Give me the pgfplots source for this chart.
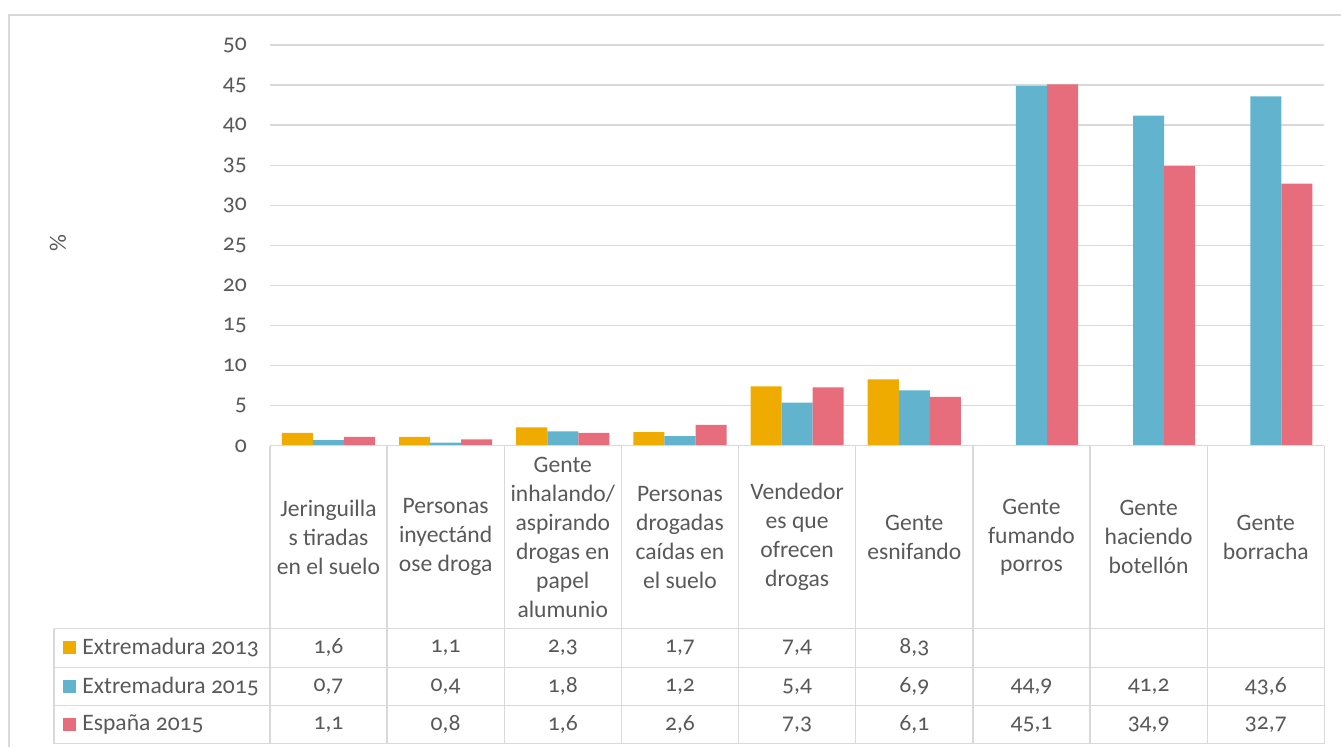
\documentclass[border=0pt]{standalone}
\usepackage{pgfplots}
\pgfplotsset{compat=1.18}
\usepackage{fontspec}
\setmainfont{Carlito}[Numbers=OldStyle]
\definecolor{cgold}{RGB}{240,171,0}
\definecolor{cblue}{RGB}{98,179,206}
\definecolor{cpink}{RGB}{231,108,124}
\definecolor{ctext}{RGB}{89,89,89}
\definecolor{cgrid}{RGB}{217,217,217}
\begin{document}
\begin{tikzpicture}
\begin{scope}[x=0.5pt,y=-0.5pt,shift={(-270,-446)}]
\path (0,0) rectangle (1342,747);
\end{scope}
\begin{axis}[
  width=527.5pt, height=200.5pt, scale only axis,
  xmin=-0.5, xmax=8.5, ymin=0, ymax=50,
  ytick={0,5,...,50}, xtick=\empty,
  axis line style={draw=none},
  ymajorgrids, grid style={color=cgrid, line width=0.65pt},
  major tick length=0pt,
  /pgf/number format/assume math mode=true,
  yticklabel style={font=\fontsize{11.8}{14.5}\selectfont, text=ctext, xshift=-8pt},
  clip=false,
]
\addplot[ybar, bar width=0.265, bar shift=-0.265, fill=cgold, draw=none]
  coordinates {(0,1.6) (1,1.1) (2,2.3) (3,1.7) (4,7.4) (5,8.3)};
\addplot[ybar, bar width=0.265, bar shift=0, fill=cblue, draw=none]
  coordinates {(0,0.7) (1,0.4) (2,1.8) (3,1.2) (4,5.4) (5,6.9) (6,44.9) (7,41.2) (8,43.6)};
\addplot[ybar, bar width=0.265, bar shift=0.265, fill=cpink, draw=none]
  coordinates {(0,1.1) (1,0.8) (2,1.6) (3,2.6) (4,7.3) (5,6.1) (6,45.1) (7,34.9) (8,32.7)};
\end{axis}
\begin{scope}[x=0.5pt,y=-0.5pt,shift={(-270,-446)}, every node/.style={text=ctext, font=\fontsize{11.8}{14.5}\selectfont, inner sep=0pt}]
\draw[cgrid, line width=0.6pt] (1342,15) -- (9,15) -- (9,747);
\draw[cgrid, line width=0.7pt] (270,446) -- (1325,446);
\foreach \yy in {629,668,706,744} \draw[cgrid, line width=0.7pt] (54,\yy) -- (1325,\yy);
\draw[cgrid, line width=0.7pt] (54,629) -- (54,744);
\foreach \k in {0,...,9} \draw[cgrid, line width=0.7pt] ({270+117.22*\k},446) -- ({270+117.22*\k},744);
\node[rotate=90] at (58,243) {\%};
\foreach \lab [count=\i from 0] in {
  {Jeringuilla\\s tiradas\\en el suelo},
  {Personas\\inyectánd\\ose droga},
  {Gente\\inhalando/\\aspirando\\drogas en\\papel\\alumunio},
  {Personas\\drogadas\\caídas en\\el suelo},
  {Vendedor\\es que\\ofrecen\\drogas},
  {Gente\\esnifando},
  {Gente\\fumando\\porros},
  {Gente\\haciendo\\botellón},
  {Gente\\borracha}}
  \node[align=center] at ({270+117.22*(\i+0.5)},537.5) {\lab};
\fill[cgold] (63,641) rectangle (76,654);
\fill[cblue] (63,680) rectangle (76,693);
\fill[cpink] (63,718) rectangle (76,731);
\node[anchor=west] at (82,648) {Extremadura 2013};
\node[anchor=west] at (82,687) {Extremadura 2015};
\node[anchor=west] at (82,725) {España 2015};
\foreach \v [count=\i from 0] in {1{,}6,1{,}1,2{,}3,1{,}7,7{,}4,8{,}3}
  \node at ({270+117.22*(\i+0.5)},648) {\v};
\foreach \v [count=\i from 0] in {0{,}7,0{,}4,1{,}8,1{,}2,5{,}4,6{,}9,44{,}9,41{,}2,43{,}6}
  \node at ({270+117.22*(\i+0.5)},687) {\v};
\foreach \v [count=\i from 0] in {1{,}1,0{,}8,1{,}6,2{,}6,7{,}3,6{,}1,45{,}1,34{,}9,32{,}7}
  \node at ({270+117.22*(\i+0.5)},725) {\v};
\end{scope}
\end{tikzpicture}
\end{document}
